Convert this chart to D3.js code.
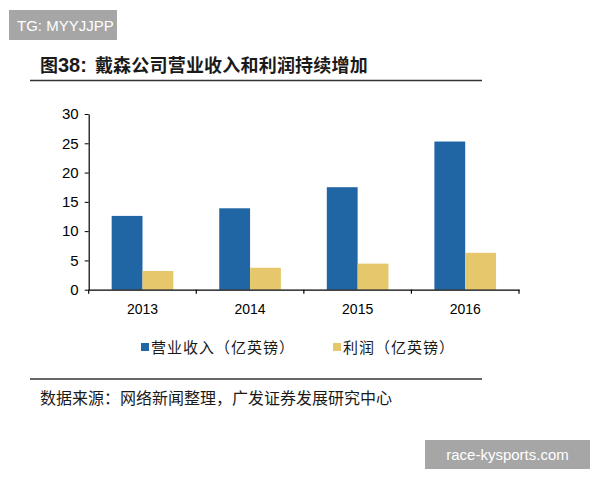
<!DOCTYPE html>
<html><head><meta charset="utf-8">
<script src="https://cdn.jsdelivr.net/npm/d3@7"></script>
<style>body{margin:0;background:#fff;}svg{display:block;}</style>
</head><body>
<svg id="c" width="600" height="480"></svg>
<script>
const years = ["2013","2014","2015","2016"];
const seriesNames = ["营业收入（亿英镑）","利润（亿英镑）"];
const revenue = [12.6, 13.9, 17.5, 25.3];
const profit = [3.2, 3.75, 4.45, 6.3];
const yTicks = [0,5,10,15,20,25,30];
const colors = ["#2166a4","#e6c76c"];

const svg = d3.select("#c");
const latin = "Arial, 'Liberation Sans', sans-serif";
const cjk = "'Noto Sans CJK SC', sans-serif";

// watermark top-left
svg.append("rect").attr("x",9).attr("y",10).attr("width",108).attr("height",30).attr("fill","#a6a6a6");
svg.append("text").attr("x",17).attr("y",31).attr("fill","#fff").attr("font-family",latin).attr("font-size",15).text("TG: MYYJJPP");

// title
const t = svg.append("text").attr("x",40).attr("y",72).attr("fill","#1a1a1a");
t.append("tspan").attr("font-family",cjk).attr("font-weight",700).attr("font-size",18).text("图");
t.append("tspan").attr("font-family",latin).attr("font-weight",700).attr("font-size",20).text("38:");
t.append("tspan").attr("font-family",cjk).attr("font-weight",700).attr("font-size",18).attr("dx",8).attr("letter-spacing",0.2).text("戴森公司营业收入和利润持续增加");
svg.append("line").attr("x1",30).attr("x2",482).attr("y1",80.5).attr("y2",80.5).attr("stroke","#333").attr("stroke-width",1.3);

// chart
const x0 = d3.scaleBand().domain(years).range([88.7,519]).padding(0);
const x1 = d3.scaleBand().domain([0,1]).range([0,x0.bandwidth()]).paddingInner(0).paddingOuter(0.745);
const y = d3.scaleLinear().domain([0,30]).range([289.7,114]);

const data = years.map((yr,i)=>({yr, vals:[revenue[i], profit[i]]}));
const g = svg.append("g");
g.selectAll("g.grp").data(data).join("g").attr("transform",d=>`translate(${x0(d.yr)},0)`)
  .selectAll("rect").data(d=>d.vals.map((v,k)=>({v,k}))).join("rect")
  .attr("x",d=>x1(d.k)).attr("width",x1.bandwidth())
  .attr("y",d=>y(d.v)).attr("height",d=>y(0)-y(d.v)).attr("fill",d=>colors[d.k]);

// y axis
const ya = svg.append("g").attr("transform","translate(88.7,0)")
  .call(d3.axisLeft(y).tickValues(yTicks).tickSize(4).tickSizeOuter(0).tickPadding(6));
ya.select(".domain").attr("stroke","#000").attr("stroke-width",1.2);
ya.selectAll(".tick line").attr("stroke","#000");
ya.selectAll("text").attr("font-family",latin).attr("font-size",15).attr("fill","#000");

// x axis
const xa = svg.append("g").attr("transform",`translate(0,${y(0)})`)
  .call(d3.axisBottom(x0).tickSize(0).tickPadding(14));
xa.select(".domain").attr("stroke","#000").attr("stroke-width",1.2);
xa.selectAll("text").attr("font-family",latin).attr("font-size",14).attr("fill","#000");
const bounds = [...years.map(d=>x0(d)), x0.range()[1]];
svg.append("g").selectAll("line").data(bounds).join("line")
  .attr("x1",d=>d).attr("x2",d=>d).attr("y1",y(0)).attr("y2",y(0)+4).attr("stroke","#000").attr("stroke-width",1.2);

// legend
const legX = [141, 333];
const lg = svg.append("g").selectAll("g").data(seriesNames).join("g")
  .attr("transform",(d,i)=>`translate(${legX[i]},347)`);
lg.append("rect").attr("x",0).attr("y",-4).attr("width",8).attr("height",8).attr("fill",(d,i)=>colors[i]);
lg.append("text").attr("x",10).attr("y",5.5).attr("font-family",cjk).attr("font-size",15).attr("fill","#1a1a1a").attr("letter-spacing",1).text(d=>d);

// bottom line and source
svg.append("line").attr("x1",30).attr("x2",482).attr("y1",379).attr("y2",379).attr("stroke","#333").attr("stroke-width",1.3);
svg.append("text").attr("x",40).attr("y",404).attr("font-family",cjk).attr("font-size",16).attr("fill","#1a1a1a").text("数据来源：网络新闻整理，广发证券发展研究中心");

// watermark bottom-right
svg.append("rect").attr("x",425).attr("y",440).attr("width",165).attr("height",29).attr("fill","#a6a6a6");
svg.append("text").attr("x",507.5).attr("y",460).attr("text-anchor","middle").attr("fill","#fff").attr("font-family",latin).attr("font-size",15).text("race-kysports.com");
</script>
</body></html>
